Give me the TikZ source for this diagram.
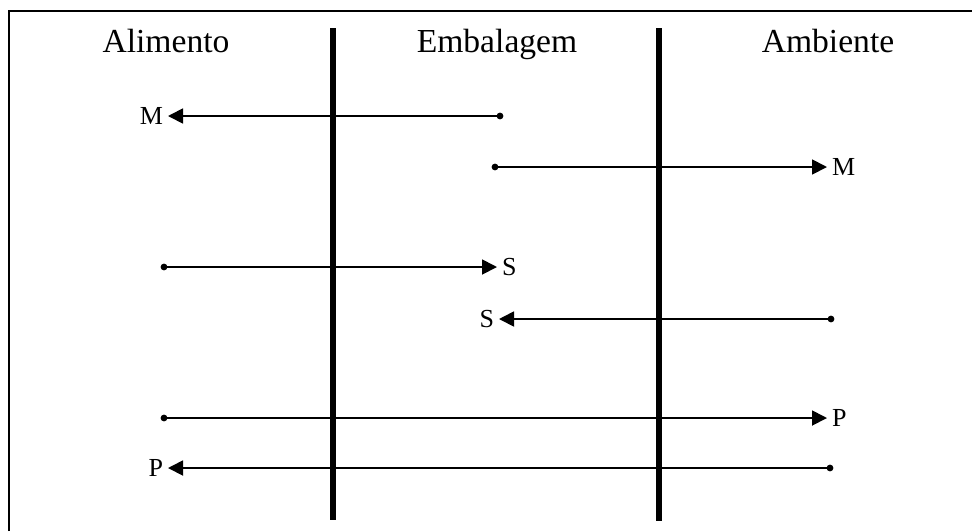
\documentclass[tikz,border=0pt]{standalone}
\usepackage{fontspec}
\setmainfont{Liberation Serif}
\usetikzlibrary{arrows.meta}
\usetikzlibrary{positioning}

\tikzset{
    barrier/.style={line width=2.8pt},
    flow/.style={line width=0.9pt,-{Triangle[length=7.5pt,width=7.5pt]}},
    zone/.style={font=\fontsize{16.8}{18}\selectfont,inner sep=0pt,anchor=base},
    species/.style={font=\fontsize{13}{15}\selectfont,inner sep=0pt,outer sep=2.5pt},
    source/.style={circle,fill,inner sep=0pt,minimum size=3.4pt}
}

\begin{document}
\begin{tikzpicture}[x=0.5pt,y=-0.5pt]
        \useasboundingbox (0,0) rectangle (972,531);
        % Frame
        \draw [line width=1pt] (9,531) -- (9,11) -- (972,11);
        % Zones
        \node [zone] (alimento) at (166,52) {Alimento};
        \node [zone] (embalagem) at (497,52) {Embalagem};
        \node [zone] (ambiente) at (828,52) {Ambiente};
        \draw [barrier] (333,28) -- (333,520);
        \draw [barrier] (659,28) -- (659,521);
        % Migration
        \node [source] (m1src) at (500,116) {};
        \node [species,anchor=east] (m1) at (168,116) {M};
        \draw [flow] (m1src.center) -- (m1);
        \node [source] (m2src) at (495,167) {};
        \node [species,anchor=west] (m2) at (827,167) {M};
        \draw [flow] (m2src.center) -- (m2);
        % Sorption
        \node [source] (s1src) at (164,267) {};
        \node [species,anchor=west] (s1) at (497,267) {S};
        \draw [flow] (s1src.center) -- (s1);
        \node [source] (s2src) at (831,319) {};
        \node [species,anchor=east] (s2) at (499,319) {S};
        \draw [flow] (s2src.center) -- (s2);
        % Permeation
        \node [source] (p1src) at (164,418) {};
        \node [species,anchor=west] (p1) at (827,418) {P};
        \draw [flow] (p1src.center) -- (p1);
        \node [source] (p2src) at (830,468) {};
        \node [species,anchor=east] (p2) at (168,468) {P};
        \draw [flow] (p2src.center) -- (p2);
\end{tikzpicture}
\end{document}
